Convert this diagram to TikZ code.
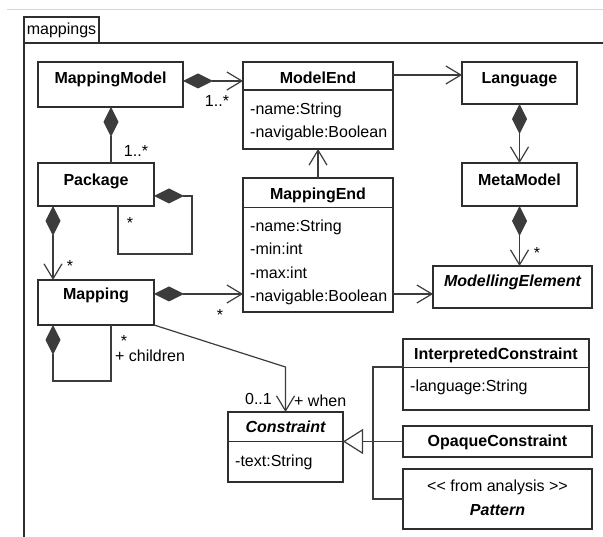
\documentclass[tikz,border=0pt]{standalone}
\usepackage{fontspec}
\setmainfont{Liberation Sans}
\usetikzlibrary{arrows.meta}
\definecolor{ln}{HTML}{2E2E2E}
\definecolor{wire}{HTML}{3C3C3C}
\definecolor{rule}{HTML}{D6D6D6}
\begin{document}
\fontsize{16}{19}\selectfont
\begin{tikzpicture}[x=1pt,y=-1pt,
    cls/.style={draw=ln,line width=1.5pt,fill=white,inner sep=0pt,outer sep=0pt},
    ttl/.style={font=\bfseries,anchor=base,inner sep=0pt},
    abst/.style={font=\bfseries\itshape,anchor=base,inner sep=0pt},
    attr/.style={anchor=base west,inner sep=0pt},
    lbl/.style={inner sep=0pt},
    comp/.style={{Diamond[length=30pt,width=15pt]}-},
    nav/.style={-{Straight Barb[length=15pt,width=18pt]}},
    compnav/.style={{Diamond[length=30pt,width=15pt]}-{Straight Barb[length=15pt,width=18pt]}},
    gen/.style={-{Triangle[open,length=20pt,width=25pt,fill=white]}}]
  \useasboundingbox (0,0) rectangle (603,537);
  \draw[rule,line width=1pt] (7,10) -- (603,10);
  \draw[ln,line width=1.5pt] (24,537) -- (24,43) -- (603,43);
  \node[cls,fill=none,minimum width=75pt,minimum height=26pt] (tab) at (61.5,30) {mappings};

  \node[cls,minimum width=145pt,minimum height=45pt] (mm) at (110.5,84.5) {};
  \node[cls,minimum width=150pt,minimum height=87pt] (me) at (318,105.5) {};
  \node[cls,minimum width=115pt,minimum height=42pt] (lang) at (519.5,83) {};
  \node[cls,minimum width=116pt,minimum height=43pt] (pkg) at (96,184.5) {};
  \node[cls,minimum width=115pt,minimum height=43pt] (meta) at (519.5,184.5) {};
  \node[cls,minimum width=150pt,minimum height=134pt] (mend) at (318,245) {};
  \node[cls,minimum width=116pt,minimum height=45pt] (map) at (96,302.5) {};
  \node[cls,minimum width=159pt,minimum height=42pt] (melem) at (512.5,287) {};
  \node[cls,minimum width=115pt,minimum height=70pt] (con) at (285.5,447) {};
  \node[cls,minimum width=186pt,minimum height=71pt] (icon) at (496,374.5) {};
  \node[cls,minimum width=189pt,minimum height=31pt] (ocon) at (497.5,441.5) {};
  \node[cls,minimum width=189pt,minimum height=60pt] (pat) at (497.5,499) {};

  \draw[ln,line width=1.5pt] (me.west |- 0,90) -- (me.east |- 0,90);
  \draw[ln,line width=1.5pt] (mend.west |- 0,207.7) -- (mend.east |- 0,207.7);
  \draw[ln,line width=1.5pt] (con.west |- 0,441.7) -- (con.east |- 0,441.7);
  \draw[ln,line width=1.5pt] (icon.west |- 0,367.7) -- (icon.east |- 0,367.7);

  \node[ttl] (mmT) at (110.5,83.5) {MappingModel};
  \node[ttl] (meT) at (318,83.5) {ModelEnd};
  \node[attr] (meA1) at (250,115) {-name:String};
  \node[attr] (meA2) at (250,138) {-navigable:Boolean};
  \node[ttl] (langT) at (519.5,83.5) {Language};
  \node[ttl] (pkgT) at (96,185.5) {Package};
  \node[ttl] (metaT) at (519.5,185.5) {MetaModel};
  \node[ttl] (mendT) at (318,200) {MappingEnd};
  \node[attr] (mendA1) at (250,231.5) {-name:String};
  \node[attr] (mendA2) at (250,254.8) {-min:int};
  \node[attr] (mendA3) at (250,278.1) {-max:int};
  \node[attr] (mendA4) at (250,301.4) {-navigable:Boolean};
  \node[ttl] (mapT) at (96,300) {Mapping};
  \node[abst] (melemT) at (512.5,286.5) {ModellingElement};
  \node[abst] (conT) at (285.5,432.5) {Constraint};
  \node[attr] (conA) at (235,466.5) {-text:String};
  \node[ttl] (iconT) at (496,360) {InterpretedConstraint};
  \node[attr] (iconA) at (410,391.5) {-language:String};
  \node[ttl] (oconT) at (497.5,446.5) {OpaqueConstraint};
  \node[lbl,anchor=base] (patS) at (497.5,491.5) {<\kern0pt< from analysis >\kern0pt>};
  \node[abst] (patT) at (497.5,515) {Pattern};

  \coordinate (bend) at (285.5,367);
  \coordinate (trunk) at (373,441.5);
  \begin{scope}[wire,line width=1.2pt]
    \draw[compnav] ([yshift=3.5pt]mm.east) to ([yshift=3.5pt]mm.east -| me.west);
    \draw[nav] ([yshift=8pt]lang.west -| me.east) to ([yshift=8pt]lang.west);
    \draw[comp] ([xshift=0.5pt]mm.south) to ([xshift=0.5pt]mm.south |- pkg.north);
    \draw[comp] ([yshift=-11.5pt]pkg.east) -- ++(38,0) -- ++(0,58) -| ([xshift=22pt]pkg.south);
    \draw[compnav] ([xshift=-43pt]pkg.south) to ([xshift=-43pt]map.north);
    \draw[compnav] ([yshift=8.5pt]map.east) to ([yshift=8.5pt]map.east -| mend.west);
    \draw[comp] ([xshift=-43pt]map.south) -- ++(0,56) -| ([xshift=15pt]map.south);
    \draw[nav] (map.south east) -- (bend) -- (con.north);
    \draw[nav] (mend.north) to (me.south);
    \draw[nav] ([yshift=-49pt]mend.east) to ([yshift=-49pt]mend.east -| melem.west);
    \draw[compnav] (lang.south) to (meta.north);
    \draw[compnav] (meta.south) to (meta.south |- melem.north);
    \draw[gen] (ocon.west) to (ocon.west -| con.east);
    \draw ([yshift=7.5pt]icon.west) -| (trunk) |- (pat.west);
  \end{scope}

  \node[lbl,anchor=base] (mmMul) at (217,107) {1..*};
  \node[lbl,anchor=base] (pkgMul) at (136,156.5) {1..*};
  \node[lbl,anchor=north] (subMul) at (130,217) {*};
  \node[lbl,anchor=north] (mapMul) at (70,260) {*};
  \node[lbl,anchor=north] (endMul) at (220,309) {*};
  \node[lbl,anchor=north] (kidMul) at (124,335) {*};
  \node[lbl,anchor=base west] (kidRole) at (115,361.5) {+ children};
  \node[lbl,anchor=base east] (whenMul) at (272,405) {0..1};
  \node[lbl,anchor=base west] (whenRole) at (294,406.5) {+ when};
  \node[lbl,anchor=north] (elemMul) at (537,247) {*};
\end{tikzpicture}
\end{document}
